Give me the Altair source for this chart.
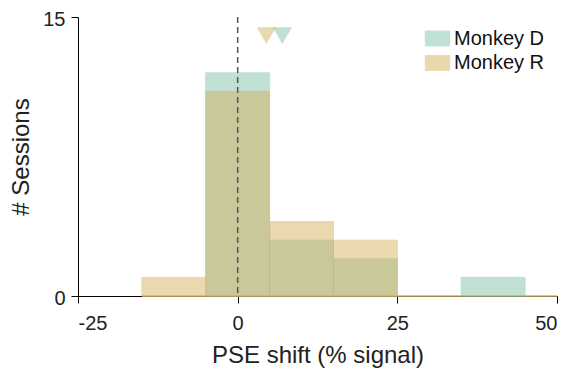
import altair as alt
import pandas as pd

bin_start = [-15, -5, 5, 15, 25, 35]
bin_end = [-5, 5, 15, 25, 35, 45]
counts_D = [0, 12, 3, 2, 0, 1]
counts_R = [1, 11, 4, 3, 0, 0]
monkeys = ["Monkey D", "Monkey R"]
colors = ["#80c2a8", "#d6b262"]
median_D = 7.0
median_R = 4.5
marker_y = 14

rows = []
for m, cnts in [("Monkey D", counts_D), ("Monkey R", counts_R)]:
    for s, e, c in zip(bin_start, bin_end, cnts):
        if c > 0:
            rows.append({"monkey": m, "start": s, "end": e, "count": c, "order": monkeys.index(m)})
bars = pd.DataFrame(rows)
meds = pd.DataFrame({"monkey": ["Monkey R", "Monkey D"], "x": [median_R, median_D], "y": [marker_y, marker_y]})
base_line = pd.DataFrame({"x": [-15], "x2": [50], "y": [0]})
zero = pd.DataFrame({"x": [0]})

color_scale = alt.Scale(domain=monkeys, range=colors)
xs = alt.Scale(domain=[-25, 50], nice=False)
ys = alt.Scale(domain=[0, 15], nice=False)

xaxis = alt.Axis(values=[-25, 0, 25, 50], title="PSE shift (% signal)", labelExpr="'' + datum.value",
                 titlePadding=10, labelPadding=10)
yaxis = alt.Axis(values=[0, 15], title="# Sessions", labelExpr="'' + datum.value",
                 titlePadding=9, labelPadding=6, labelOffset=2)

line = alt.Chart(base_line).mark_rule(color="#d4b060", strokeWidth=1.5).encode(
    x=alt.X("x:Q", scale=xs, axis=xaxis), x2="x2:Q", y=alt.Y("y:Q", scale=ys, axis=yaxis))

rects = alt.Chart(bars).mark_rect(opacity=0.5, strokeWidth=1).encode(
    x=alt.X("start:Q", scale=xs, axis=xaxis), x2="end:Q",
    y=alt.Y("count:Q", scale=ys, axis=yaxis), y2=alt.datum(0),
    color=alt.Color("monkey:N", scale=color_scale, legend=alt.Legend(
        title=None, orient="none", legendX=349, legendY=11, symbolType="M-1.22,-0.74H1.22V0.74H-1.22Z",
        symbolSize=400, labelFontSize=20, labelFont="Liberation Sans", labelColor="#111",
        symbolOpacity=0.5, rowPadding=3.5, symbolStrokeWidth=1, labelOffset=6)),
    stroke=alt.Stroke("monkey:N", scale=color_scale, legend=None),
    order="order:Q")

dash = alt.Chart(zero).mark_rule(color="#555", strokeDash=[6, 4], strokeWidth=1.5).encode(
    x=alt.X("x:Q", scale=xs, axis=xaxis))

tri = alt.Chart(meds).mark_point(shape="triangle-down", filled=True, opacity=0.5, size=370).encode(
    x=alt.X("x:Q", scale=xs, axis=xaxis), y=alt.Y("y:Q", scale=ys, axis=yaxis),
    color=alt.Color("monkey:N", scale=color_scale, legend=None))

chart = alt.layer(line, rects, dash, tri).properties(
    width=479, height=279,
    autosize=alt.AutoSizeParams(type="none"),
    padding={"left": 70, "top": 9, "right": 9, "bottom": 80},
).configure_view(stroke=None).configure_axis(
    grid=False, domainColor="black", tickColor="black", tickSize=7,
    labelFontSize=20, titleFontSize=24, labelColor="#222", titleColor="#222",
    titleFontWeight="normal", labelFont="Liberation Sans", titleFont="Liberation Sans",
)

chart.save("out.html", embed_options={"renderer": "svg", "actions": False})
